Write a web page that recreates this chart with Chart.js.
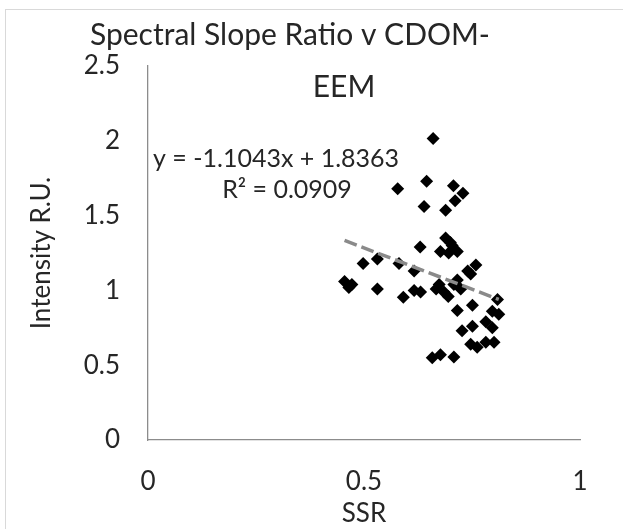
<!DOCTYPE html>
<html>
<head>
<meta charset="utf-8">
<script src="https://cdn.jsdelivr.net/npm/chart.js@4.4.0/dist/chart.umd.min.js"></script>
<style>
  html, body { margin: 0; padding: 0; background: #fff; }
  #wrap { width: 623px; height: 529px; position: relative; }
</style>
</head>
<body>
<div id="wrap"><canvas id="myChart"></canvas></div>
<script>
// SSR (x) and CDOM-EEM intensity (y)
const ssr = [
  0.660, 0.578, 0.645, 0.707, 0.729, 0.711, 0.639, 0.689,
  0.689, 0.704, 0.677, 0.696, 0.716, 0.630,
  0.498, 0.531, 0.581, 0.616, 0.455, 0.465, 0.472, 0.531,
  0.591, 0.616, 0.631, 0.759, 0.747, 0.674, 0.708, 0.667,
  0.685, 0.724, 0.716, 0.751, 0.716, 0.809, 0.797, 0.812,
  0.782, 0.727, 0.751, 0.797, 0.747, 0.762, 0.782, 0.801,
  0.658, 0.677, 0.708, 0.695, 0.700, 0.740
];
const intensity = [
  2.015, 1.68, 1.73, 1.70, 1.65, 1.60, 1.56, 1.535,
  1.35, 1.30, 1.26, 1.25, 1.26, 1.29,
  1.18, 1.21, 1.18, 1.13, 1.06, 1.02, 1.04, 1.01,
  0.955, 1.00, 0.99, 1.17, 1.11, 1.04, 1.04, 1.01,
  0.99, 1.01, 1.07, 0.90, 0.865, 0.94, 0.86, 0.84,
  0.79, 0.73, 0.76, 0.75, 0.64, 0.62, 0.654, 0.654,
  0.55, 0.57, 0.555, 0.96, 1.32, 1.13
];

const xTicks = [0, 0.5, 1];
const yTicks = [0, 0.5, 1, 1.5, 2, 2.5];

// trendline from the equation shown on the chart
const slope = -1.1043;
const intercept = 1.8363;
const rSquared = 0.0909;

const points = ssr.map((x, i) => ({ x: x, y: intensity[i] }));
const xMin = Math.min(...ssr);
const xMax = Math.max(...ssr);
const trend = [
  { x: xMin, y: slope * xMin + intercept },
  { x: xMax, y: slope * xMax + intercept }
];

const font = 'Lato, "Open Sans", sans-serif';
const textColor = '#262626';
const axisColor = '#8c8c8c';

// frame, title and equation label
const extras = {
  id: 'extras',
  beforeDraw(chart) {
    const ctx = chart.ctx;
    ctx.save();
    ctx.fillStyle = '#fff';
    ctx.fillRect(0, 0, chart.width, chart.height);
    ctx.strokeStyle = '#d9d9d9';
    ctx.lineWidth = 1;
    ctx.strokeRect(5.5, 9.5, chart.width + 10, chart.height + 10);
    ctx.restore();
  },
  afterDraw(chart) {
    const ctx = chart.ctx;
    ctx.save();
    ctx.fillStyle = textColor;
    ctx.textBaseline = 'middle';
    ctx.textAlign = 'center';
    ctx.font = '30px ' + font;
    ctx.fillText('Spectral Slope Ratio v CDOM-', 290, 35);
    ctx.fillText('EEM', 344, 87);
    ctx.font = '25px ' + font;
    ctx.textAlign = 'left';
    ctx.fillText('y = ' + slope + 'x + ' + intercept, 153, 159);
    ctx.textAlign = 'center';
    ctx.fillText('R\u00B2 = ' + rSquared.toFixed(4), 287, 190);
    ctx.restore();
  }
};

const cts = document.querySelector('#myChart').getContext('2d');

const config = {
  type: 'scatter',
  data: {
    datasets: [
      {
        data: points,
        pointStyle: 'rectRot',
        pointRadius: 6.5,
        pointHoverRadius: 6.5,
        backgroundColor: '#000',
        borderColor: '#000',
        borderWidth: 0,
        order: 2
      },
      {
        type: 'line',
        data: trend,
        borderColor: '#8a8a8a',
        borderWidth: 3.5,
        borderDash: [13, 5],
        pointRadius: 0,
        fill: false,
        order: 1
      }
    ]
  },
  options: {
    responsive: true,
    maintainAspectRatio: false,
    animation: false,
    events: [],
    layout: { padding: { top: 66, right: 43, bottom: 0, left: 0 } },
    plugins: {
      legend: { display: false },
      tooltip: { enabled: false }
    },
    scales: {
      x: {
        type: 'linear',
        min: 0,
        max: 1,
        afterBuildTicks: (scale) => { scale.ticks = xTicks.map(v => ({ value: v })); },
        afterFit: (scale) => { scale.height = 89; },
        grid: { display: false, drawTicks: false },
        border: { color: axisColor, width: 1.3 },
        ticks: { color: textColor, font: { family: font, size: 26 }, padding: 26, callback: (v) => String(v) },
        title: {
          display: true,
          text: 'SSR',
          color: textColor,
          font: { family: font, size: 26 },
          padding: { top: 0, bottom: 0 }
        }
      },
      y: {
        type: 'linear',
        min: 0,
        max: 2.5,
        afterBuildTicks: (scale) => { scale.ticks = yTicks.map(v => ({ value: v })); },
        afterFit: (scale) => { scale.width = 148; },
        grid: { display: false, drawTicks: false },
        border: { color: axisColor, width: 1.3 },
        ticks: { color: textColor, font: { family: font, size: 26 }, padding: 28, callback: (v) => String(v) },
        title: {
          display: true,
          text: 'Intensity R.U.',
          color: textColor,
          font: { family: font, size: 26 },
          padding: { top: 26, bottom: 0 }
        }
      }
    }
  },
  plugins: [extras]
};

const myChart = new Chart(cts, config);
</script>
</body>
</html>
